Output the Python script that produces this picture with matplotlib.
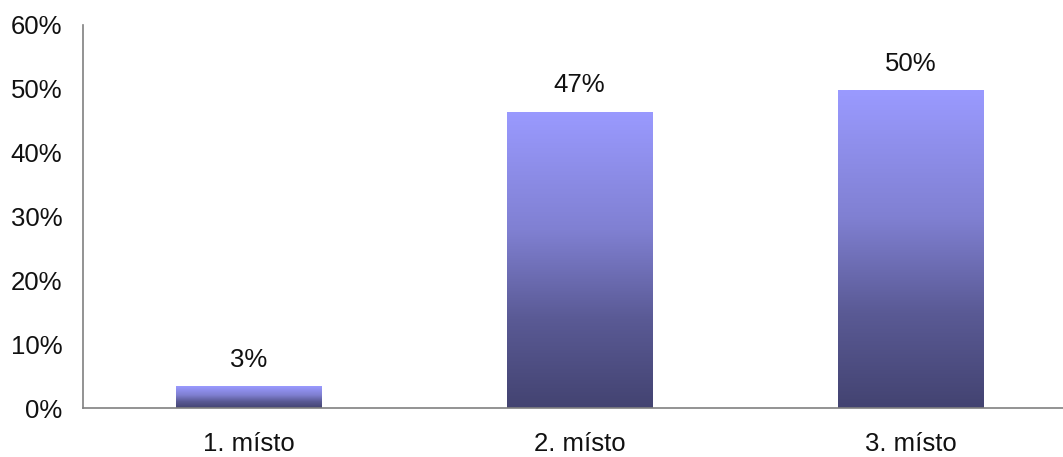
import matplotlib
matplotlib.use("Agg")
import matplotlib.pyplot as plt
import numpy as np
from matplotlib.colors import LinearSegmentedColormap

categories = ["1. místo", "2. místo", "3. místo"]
values = [3.4, 46.4, 49.8]
value_labels = ["3%", "47%", "50%"]
yticks = [0, 10, 20, 30, 40, 50, 60]

plt.rcParams['font.family'] = ['Liberation Sans', 'DejaVu Sans']

fig = plt.figure(figsize=(10.63, 4.57), dpi=100)
W, H = 1063, 457
left, right, top, bottom = 83, 1063, 25, 408
ax = fig.add_axes([left / W, 1 - bottom / H, (right - left) / W, (bottom - top) / H])

cmap = LinearSegmentedColormap.from_list(
    "grad", [(0.0, "#434371"), (0.3, "#5a5a95"), (0.6, "#8080d2"), (1.0, "#9a9aff")])

x = np.arange(len(categories))
bars = ax.bar(x, values, width=0.438, color="none", edgecolor="none", zorder=2)
grad = np.linspace(0, 1, 256).reshape(-1, 1)
for b in bars:
    x0, y0 = b.get_x(), b.get_y()
    w, h = b.get_width(), b.get_height()
    im = ax.imshow(grad, cmap=cmap, origin="lower", aspect="auto",
                   extent=(x0, x0 + w, y0, y0 + h), zorder=2, interpolation="bilinear")
    im.set_clip_path(b)

FS = 18.5
for xi, v, lab in zip(x, values, value_labels):
    ax.annotate(lab, (xi, v), xytext=(0, 14), textcoords="offset points",
                ha="center", va="baseline", fontsize=FS, color="#111111")

ax.set_xlim(-0.5, 2.46)
ax.set_ylim(0, 60)
ax.set_yticks(yticks)
ax.set_yticklabels([f"{t}%" for t in yticks])
ax.set_xticks(x)
ax.set_xticklabels(categories)
ax.tick_params(axis="both", length=0, labelsize=FS, colors="#111111")
ax.tick_params(axis="y", pad=15)
ax.tick_params(axis="x", pad=17)
for s in ["top", "right"]:
    ax.spines[s].set_visible(False)
for s in ["left", "bottom"]:
    ax.spines[s].set_color("#808080")
    ax.spines[s].set_linewidth(1.2)
    ax.spines[s].set_zorder(3)

fig.savefig("out.png", dpi=100)
